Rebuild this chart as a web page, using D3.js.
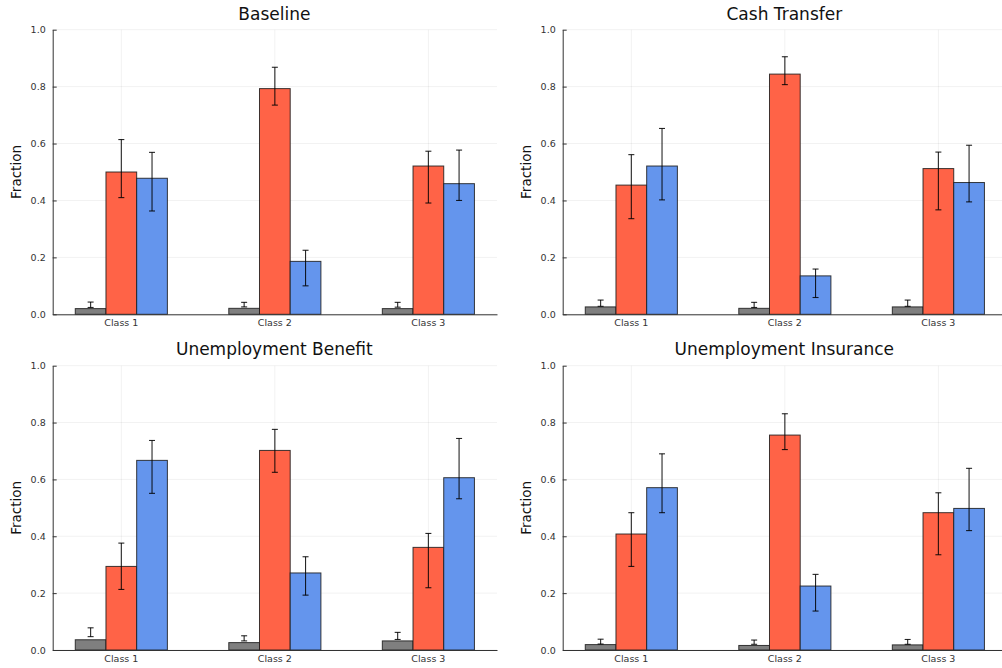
<!DOCTYPE html>
<html><head><meta charset="utf-8">
<script src="https://cdn.jsdelivr.net/npm/d3@7"></script>
<style>body{margin:0;background:#fff}svg{display:block;font-family:"DejaVu Sans",sans-serif}</style>
</head><body>
<script>
const categories = ["Class 1", "Class 2", "Class 3"];
const panelTitles = ["Baseline", "Cash Transfer", "Unemployment Benefit", "Unemployment Insurance"];
const seriesNames = ["grey", "red", "blue"];
const yTicks = [0.0, 0.2, 0.4, 0.6, 0.8, 1.0];

// values per panel: [Class1, Class2, Class3]
const baselineGrey = [0.020, 0.021, 0.020], baselineGreyLo = [0.024, 0.026, 0.025], baselineGreyHi = [0.043, 0.042, 0.042];
const baselineRed  = [0.500, 0.793, 0.521], baselineRedLo  = [0.410, 0.735, 0.391], baselineRedHi  = [0.614, 0.868, 0.573];
const baselineBlue = [0.478, 0.186, 0.459], baselineBlueLo = [0.363, 0.100, 0.400], baselineBlueHi = [0.569, 0.225, 0.577];

const cashGrey = [0.026, 0.021, 0.026], cashGreyLo = [0.028, 0.024, 0.028], cashGreyHi = [0.050, 0.042, 0.050];
const cashRed  = [0.454, 0.844, 0.512], cashRedLo  = [0.336, 0.807, 0.367], cashRedHi  = [0.561, 0.905, 0.570];
const cashBlue = [0.521, 0.135, 0.463], cashBlueLo = [0.402, 0.059, 0.395], cashBlueHi = [0.653, 0.159, 0.594];

const ubGrey = [0.036, 0.026, 0.032], ubGreyLo = [0.047, 0.032, 0.037], ubGreyHi = [0.078, 0.050, 0.062];
const ubRed  = [0.294, 0.702, 0.361], ubRedLo  = [0.213, 0.625, 0.219], ubRedHi  = [0.376, 0.776, 0.410];
const ubBlue = [0.667, 0.271, 0.606], ubBlueLo = [0.551, 0.193, 0.532], ubBlueHi = [0.737, 0.328, 0.744];

const uiGrey = [0.019, 0.016, 0.018], uiGreyLo = [0.021, 0.020, 0.020], uiGreyHi = [0.038, 0.035, 0.037];
const uiRed  = [0.408, 0.756, 0.483], uiRedLo  = [0.294, 0.705, 0.335], uiRedHi  = [0.483, 0.831, 0.553];
const uiBlue = [0.571, 0.225, 0.498], uiBlueLo = [0.483, 0.137, 0.420], uiBlueHi = [0.690, 0.266, 0.639];

const panelData = [
  [[baselineGrey, baselineGreyLo, baselineGreyHi], [baselineRed, baselineRedLo, baselineRedHi], [baselineBlue, baselineBlueLo, baselineBlueHi]],
  [[cashGrey, cashGreyLo, cashGreyHi], [cashRed, cashRedLo, cashRedHi], [cashBlue, cashBlueLo, cashBlueHi]],
  [[ubGrey, ubGreyLo, ubGreyHi], [ubRed, ubRedLo, ubRedHi], [ubBlue, ubBlueLo, ubBlueHi]],
  [[uiGrey, uiGreyLo, uiGreyHi], [uiRed, uiRedLo, uiRedHi], [uiBlue, uiBlueLo, uiBlueHi]]
];
const colors = ["#7f7f7f", "#ff6347", "#6495ed"];

const W = 1002, H = 668;
const svg = d3.select("body").append("svg").attr("width", W).attr("height", H);

const layout = [
  {x0: 52.7, top: 29.7, bottom: 314.3, titleY: 19.5, labelX: 16},
  {x0: 562.7, top: 29.7, bottom: 314.3, titleY: 19.5, labelX: 526},
  {x0: 52.7, top: 365.7, bottom: 650, titleY: 355, labelX: 16},
  {x0: 562.7, top: 365.7, bottom: 650, titleY: 355, labelX: 526}
];
const plotW = 444.3;

panelTitles.forEach((title, p) => {
  const L = layout[p];
  const g = svg.append("g");
  const x = d3.scaleBand().domain(categories).range([L.x0, L.x0 + plotW]).paddingInner(0.4).paddingOuter(0.147);
  const xs = d3.scaleBand().domain(seriesNames).range([0, x.bandwidth()]).padding(0);
  const y = d3.scaleLinear().domain([0, 1]).range([L.bottom, L.top]);

  // grid
  g.selectAll(".hg").data(yTicks).enter().append("line")
    .attr("x1", L.x0).attr("x2", L.x0 + plotW)
    .attr("y1", d => y(d)).attr("y2", d => y(d))
    .attr("stroke", "#000").attr("stroke-opacity", 0.07).attr("stroke-width", 0.8);
  g.selectAll(".vg").data(categories).enter().append("line")
    .attr("x1", d => x(d) + x.bandwidth() / 2).attr("x2", d => x(d) + x.bandwidth() / 2)
    .attr("y1", L.top).attr("y2", L.bottom)
    .attr("stroke", "#000").attr("stroke-opacity", 0.07).attr("stroke-width", 0.8);

  // bars
  const series = panelData[p];
  series.forEach((s, si) => {
    const vals = s[0], lo = s[1], hi = s[2];
    const name = seriesNames[si];
    g.selectAll(".bar" + si).data(categories).enter().append("rect")
      .attr("x", d => x(d) + xs(name))
      .attr("width", xs.bandwidth())
      .attr("y", (d, i) => y(vals[i]))
      .attr("height", (d, i) => y(0) - y(vals[i]))
      .attr("fill", colors[si])
      .attr("stroke", "#1a1a1a").attr("stroke-opacity", 0.85).attr("stroke-width", 1);
  });
  series.forEach((s, si) => {
    const lo = s[1], hi = s[2];
    const name = seriesNames[si];
    const cx = d => x(d) + xs(name) + xs.bandwidth() / 2;
    const eb = g.selectAll(".eb" + si).data(categories).enter().append("g")
      .attr("stroke", "#000").attr("stroke-opacity", 0.85).attr("stroke-width", 1.1);
    eb.append("line").attr("x1", cx).attr("x2", cx).attr("y1", (d, i) => y(lo[i])).attr("y2", (d, i) => y(hi[i]));
    eb.append("line").attr("x1", d => cx(d) - 3).attr("x2", d => cx(d) + 3).attr("y1", (d, i) => y(lo[i])).attr("y2", (d, i) => y(lo[i]));
    eb.append("line").attr("x1", d => cx(d) - 3).attr("x2", d => cx(d) + 3).attr("y1", (d, i) => y(hi[i])).attr("y2", (d, i) => y(hi[i]));
  });

  // axes
  const yAxis = d3.axisLeft(y).tickValues(yTicks).tickFormat(d3.format(".1f")).tickSizeInner(-4).tickSizeOuter(0).tickPadding(7);
  const ya = g.append("g").attr("transform", `translate(${L.x0},0)`).call(yAxis);
  ya.select(".domain").attr("stroke", "#333").attr("stroke-width", 1);
  ya.selectAll(".tick line").attr("stroke", "#333");
  ya.selectAll("text").attr("font-size", "9.5px").attr("fill", "#333").attr("font-family", "DejaVu Sans");

  const xAxis = d3.axisBottom(x).tickSize(0).tickPadding(5);
  const xa = g.append("g").attr("transform", `translate(0,${L.bottom})`).call(xAxis);
  xa.select(".domain").attr("stroke", "#333").attr("stroke-width", 1);
  xa.selectAll("text").attr("font-size", "9.5px").attr("fill", "#333").attr("font-family", "DejaVu Sans");

  // title
  g.append("text").attr("x", L.x0 + plotW * 0.5 - 0.5).attr("y", L.titleY)
    .attr("text-anchor", "middle").attr("font-size", "17px").attr("fill", "#111").text(title);
  // y label
  const cy = (L.top + L.bottom) / 2;
  g.append("text").attr("transform", `translate(${L.labelX + 5},${cy}) rotate(-90)`)
    .attr("text-anchor", "middle").attr("font-size", "13.5px").attr("fill", "#111").text("Fraction");
});
</script>
</body></html>
